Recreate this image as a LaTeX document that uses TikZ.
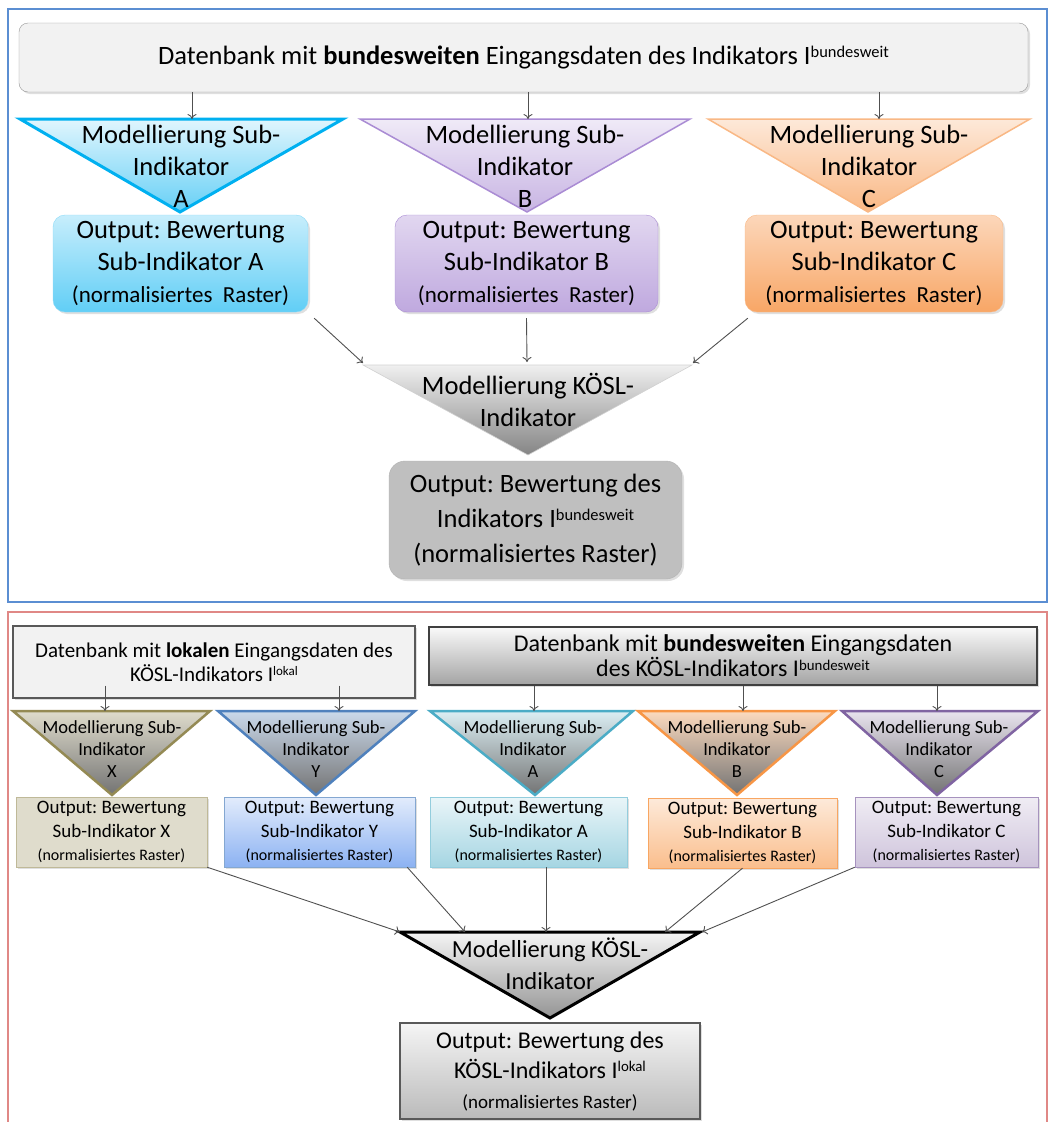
\documentclass[tikz,border=0pt]{standalone}
\usepackage{fontspec}
\setmainfont{Carlito}
\usepackage{tikz}
\usetikzlibrary{arrows.meta,shadows}
\definecolor{frameblue}{RGB}{91,142,210}
\definecolor{framered}{RGB}{224,136,134}
\definecolor{arrowgray}{RGB}{80,80,80}
\definecolor{dbfill}{RGB}{242,242,242}
\definecolor{dbline}{RGB}{150,150,150}
\definecolor{cyanA}{RGB}{0,176,240}
\definecolor{purpB}{RGB}{170,140,212}
\definecolor{orgC}{RGB}{248,166,102}
\definecolor{oliveX}{RGB}{148,138,84}
\definecolor{blueY}{RGB}{79,129,189}
\definecolor{skyY}{RGB}{140,178,242}
\definecolor{tealA}{RGB}{75,172,198}
\definecolor{orangeB}{RGB}{247,150,70}
\definecolor{violetC}{RGB}{128,100,162}
\newcommand{\hoch}[1]{\raisebox{0.55ex}{\scalebox{0.62}{#1}}}
\frenchspacing

\begin{document}
\begin{tikzpicture}[x=1pt,y=-1pt,
    arr/.style={-{To[length=5pt,width=9pt]},draw=arrowgray,line width=0.9pt},
    bigtext/.style={font=\fontsize{26.5}{32}\selectfont,align=center,inner sep=0pt},
    midtext/.style={font=\fontsize{21}{24}\selectfont,align=center,inner sep=0pt},
    smalltext/.style={font=\fontsize{18.5}{22}\selectfont,align=center,inner sep=0pt},
    softshadow/.style={drop shadow={opacity=0.25,shadow xshift=2pt,shadow yshift=-2pt}}]
    \useasboundingbox (0,0) rectangle (1049,1122);

    % upper part: bundesweit
    \draw[frameblue,line width=1.3pt] (8,9) rectangle (1047,602);
    \node[bigtext,draw=dbline,fill=dbfill,rounded corners=9pt,minimum width=1009pt,minimum height=69pt,softshadow] (dbTop) at (523.5,57.5)
        {Datenbank mit \textbf{bundesweiten} Eingangsdaten des Indikators I\hoch{bundesweit}};

    \shade[draw=cyanA,line width=3pt,top color=cyanA!12,bottom color=cyanA!60] (20,119) -- (343,119) -- (180,212) -- cycle;
    \shade[draw=purpB,line width=1.5pt,top color=purpB!18,bottom color=purpB!65] (360,119) -- (690,119) -- (527,212) -- cycle;
    \shade[draw=orgC!80,line width=1.5pt,top color=orgC!25,bottom color=orgC!80] (708,119) -- (1030,119) -- (868,212) -- cycle;
    \node[bigtext] (mTA) at (181,166) {Modellierung Sub-\\Indikator\\A};
    \node[bigtext] (mTB) at (525,166) {Modellierung Sub-\\Indikator\\B};
    \node[bigtext] (mTC) at (869,166) {Modellierung Sub-\\Indikator\\C};
    \coordinate (tA) at (192,119);
    \coordinate (tB) at (528,119);
    \coordinate (tC) at (879,119);
    \draw[arr] (tA |- dbTop.south) -- (tA);
    \draw[arr] (tB |- dbTop.south) -- (tB);
    \draw[arr] (tC |- dbTop.south) -- (tC);

    \node[bigtext,draw=cyanA!45,top color=cyanA!22,bottom color=cyanA!62,rounded corners=12pt,minimum width=255pt,minimum height=97pt,softshadow] (oTA) at (180.5,263.5)
        {Output: Bewertung\\Sub-Indikator A\\{\fontsize{23}{32}\selectfont(normalisiertes\ \ Raster)}};
    \node[bigtext,draw=purpB,top color=purpB!35,bottom color=purpB!75,rounded corners=12pt,minimum width=263pt,minimum height=97pt,softshadow] (oTB) at (526.5,263.5)
        {Output: Bewertung\\Sub-Indikator B\\{\fontsize{23}{32}\selectfont(normalisiertes\ \ Raster)}};
    \node[bigtext,draw=orgC!80,top color=orgC!45,bottom color=orgC,rounded corners=12pt,minimum width=258pt,minimum height=97pt,softshadow] (oTC) at (874,263.5)
        {Output: Bewertung\\Sub-Indikator C\\{\fontsize{23}{32}\selectfont(normalisiertes\ \ Raster)}};

    \shade[draw=black!18,line width=0.6pt,top color=black!6,bottom color=black!48] (363,365) -- (692,365) -- (528,455) -- cycle;
    \node[bigtext] (mTK) at (528,400) {Modellierung KÖSL-\\Indikator};
    \coordinate (kTL) at (363,363);
    \coordinate (kTM) at (527,362);
    \coordinate (kTR) at (693,363);
    \draw[arr] ([shift={(6pt,-6pt)}]oTA.south east) -- (kTL);
    \draw[arr] ([yshift=-6pt]oTB.south) -- (kTM);
    \draw[arr] ([shift={(3pt,-6pt)}]oTC.south west) -- (kTR);

    \node[bigtext,font=\fontsize{26.5}{35}\selectfont,draw=black!30,fill=black!25,rounded corners=16pt,minimum width=293pt,minimum height=118pt,softshadow] (oTK) at (535.5,520)
        {Output: Bewertung des\\Indikators I\hoch{bundesweit}\\(normalisiertes Raster)};

    % lower part: lokal
    \draw[framered,line width=1.3pt] (8,1130) -- (8,612) -- (1047,612) -- (1047,1130);
    \node[midtext,draw=black!65,line width=1.2pt,fill=dbfill,minimum width=402pt,minimum height=72pt,softshadow] (dbLok) at (214,662)
        {Datenbank mit \textbf{lokalen} Eingangsdaten des\\KÖSL-Indikators I\hoch{lokal}};
    \node[midtext,font=\fontsize{24}{25}\selectfont,draw=black!75,line width=1.2pt,top color=black!2,bottom color=black!36,minimum width=608pt,minimum height=58pt,softshadow] (dbBund) at (733,656)
        {Datenbank mit \textbf{bundesweiten} Eingangsdaten\\des KÖSL-Indikators I\hoch{bundesweit}};

    \shade[draw=oliveX,line width=2.5pt,top color=oliveX!30,bottom color=black!55] (13,711) -- (210,711) -- (112,795) -- cycle;
    \shade[draw=blueY,line width=2.5pt,top color=blueY!30,bottom color=black!55] (218,711) -- (415,711) -- (316,795) -- cycle;
    \shade[draw=tealA,line width=2.5pt,top color=tealA!20,bottom color=black!55] (430,711) -- (633,711) -- (535,795) -- cycle;
    \shade[draw=orangeB,line width=2.5pt,top color=orangeB!35,bottom color=black!55] (638,711) -- (835,711) -- (737,795) -- cycle;
    \shade[draw=violetC,line width=2.5pt,top color=violetC!18,bottom color=black!55] (842,711) -- (1038,711) -- (937,795) -- cycle;
    \node[smalltext] (mX) at (112,749) {Modellierung Sub-\\Indikator\\X};
    \node[smalltext] (mY) at (316,749) {Modellierung Sub-\\Indikator\\Y};
    \node[smalltext] (mA) at (533,749) {Modellierung Sub-\\Indikator\\A};
    \node[smalltext] (mB) at (737,749) {Modellierung Sub-\\Indikator\\B};
    \node[smalltext] (mC) at (939,749) {Modellierung Sub-\\Indikator\\C};
    \coordinate (tX) at (105,711);
    \coordinate (tY) at (339,711);
    \coordinate (tA2) at (534,711);
    \coordinate (tB2) at (743,711);
    \coordinate (tC2) at (937,711);
    \draw[arr] ([yshift=13pt]dbLok.south -| tX) -- (tX);
    \draw[arr] ([yshift=13pt]dbLok.south -| tY) -- (tY);
    \draw[arr] (dbBund.south -| tA2) -- (tA2);
    \draw[arr] (dbBund.south -| tB2) -- (tB2);
    \draw[arr] (dbBund.south -| tC2) -- (tC2);

    \node[smalltext,font=\fontsize{19}{23.5}\selectfont,draw=oliveX!60,fill=oliveX!30,minimum width=191pt,minimum height=70pt,softshadow] (oX) at (111.5,832)
        {Output: Bewertung\\Sub-Indikator X\\{\fontsize{16}{20}\selectfont(normalisiertes Raster)}};
    \node[smalltext,font=\fontsize{19}{23.5}\selectfont,draw=blueY!70,top color=skyY!25,bottom color=skyY,minimum width=191pt,minimum height=70pt,softshadow] (oY) at (319.5,832)
        {Output: Bewertung\\Sub-Indikator Y\\{\fontsize{16}{20}\selectfont(normalisiertes Raster)}};
    \node[smalltext,font=\fontsize{19}{23.5}\selectfont,draw=tealA!60,top color=tealA!12,bottom color=tealA!50,minimum width=197pt,minimum height=70pt,softshadow] (oA) at (528.5,832)
        {Output: Bewertung\\Sub-Indikator A\\{\fontsize{16}{20}\selectfont(normalisiertes Raster)}};
    \node[smalltext,font=\fontsize{19}{23.5}\selectfont,draw=orangeB!85,top color=orangeB!20,bottom color=orangeB!62,minimum width=189pt,minimum height=70pt,softshadow] (oB) at (742.5,833)
        {Output: Bewertung\\Sub-Indikator B\\{\fontsize{16}{20}\selectfont(normalisiertes Raster)}};
    \node[smalltext,font=\fontsize{19}{23.5}\selectfont,draw=violetC!70,top color=violetC!12,bottom color=violetC!38,minimum width=183pt,minimum height=70pt,softshadow] (oC) at (946.5,832)
        {Output: Bewertung\\Sub-Indikator C\\{\fontsize{16}{20}\selectfont(normalisiertes Raster)}};

    \shade[draw=black,line width=3pt,top color=black!4,bottom color=black!42] (400,932) -- (700,932) -- (550,1018) -- cycle;
    \node[bigtext,font=\fontsize{24.5}{32}\selectfont] (mK) at (550,964) {Modellierung KÖSL-\\Indikator};
    \coordinate (kX) at (400,932);
    \coordinate (kY) at (465,932);
    \coordinate (kA) at (546,932);
    \coordinate (kB) at (665,932);
    \coordinate (kC) at (702,932);
    \draw[arr] (oX.south east) -- (kX);
    \draw[arr] ([xshift=-8pt]oY.south east) -- (kY);
    \draw[arr] (kA |- oA.south) -- (kA);
    \draw[arr] (oB.south) -- (kB);
    \draw[arr] (oC.south west) -- (kC);

    \node[bigtext,font=\fontsize{24}{30}\selectfont,draw=black!65,line width=1.2pt,top color=black!4,bottom color=black!27,minimum width=300pt,minimum height=96pt,softshadow] (oK) at (550,1071)
        {Output: Bewertung des\\KÖSL-Indikators I\hoch{lokal}\\{\fontsize{19}{27}\selectfont(normalisiertes Raster)}};
\end{tikzpicture}
\end{document}
